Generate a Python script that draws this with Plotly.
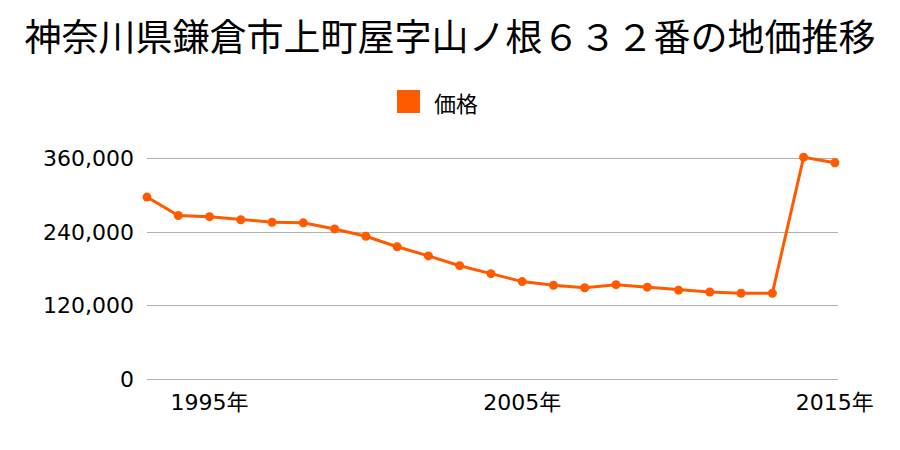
import plotly.graph_objects as go

years = list(range(1993, 2016))
prices = [297000, 267000, 265000, 260000, 256000, 255000, 245000, 233000, 216000,
          201000, 185000, 172000, 159000, 153000, 149000, 154000, 150000, 145000,
          142000, 140000, 140000, 362000, 353000]
series_name = "価格"
title_text = "神奈川県鎌倉市上町屋字山ノ根６３２番の地価推移"
x_tick_vals = [1995, 2005, 2015]
x_tick_text = ["1995年", "2005年", "2015年"]
y_tick_vals = [0, 120000, 240000, 360000]
y_tick_text = ["0", "120,000", "240,000", "360,000"]

color = "#FF5A00"
font_family = "Noto Sans CJK JP"
tick_family = "DejaVu Sans, Noto Sans CJK JP"

W, H = 900, 450
ML, MR, MT, MB = 147, 62, 134, 71
pw, ph = W - ML - MR, H - MT - MB


def px_x(x):
    return (x - ML) / pw


def px_y(y):
    return (H - MB - y) / ph


fig = go.Figure()
fig.add_trace(go.Scatter(
    x=years, y=prices, name=series_name, mode="lines+markers",
    line=dict(color=color, width=3),
    marker=dict(color=color, size=9),
    cliponaxis=False, showlegend=False,
))

# legend swatch + label (drawn manually to get the large square)
fig.add_shape(type="rect", xref="paper", yref="paper",
              x0=px_x(397), x1=px_x(420), y0=px_y(113), y1=px_y(90),
              fillcolor=color, line=dict(width=0))
fig.add_annotation(text=series_name, xref="paper", yref="paper",
                   x=px_x(432), y=px_y(101.5), xanchor="left", yanchor="middle",
                   showarrow=False, font=dict(size=22, family=font_family, color="#000000"))

fig.update_layout(
    width=W, height=H,
    paper_bgcolor="white", plot_bgcolor="white",
    margin=dict(l=ML, r=MR, t=MT, b=MB),
    font=dict(family=font_family, color="#000000"),
    title=dict(text=title_text, x=0.5, xanchor="center", y=0.915, yanchor="middle",
               font=dict(size=37, family=font_family, color="#000000")),
    showlegend=False,
    xaxis=dict(range=[1993, 2015.1], tickvals=x_tick_vals, ticktext=x_tick_text,
               showgrid=False, zeroline=False, showline=False, ticks="",
               tickfont=dict(size=22, family=tick_family), ticklabelstandoff=8),
    yaxis=dict(range=[0, 400000], tickvals=y_tick_vals, ticktext=y_tick_text,
               showgrid=True, gridcolor="#b0b0b0", gridwidth=1,
               zeroline=True, zerolinecolor="#b0b0b0", zerolinewidth=1,
               showline=False, ticks="",
               tickfont=dict(size=22, family=tick_family), ticklabelstandoff=12),
)

fig.write_html("out.html")
